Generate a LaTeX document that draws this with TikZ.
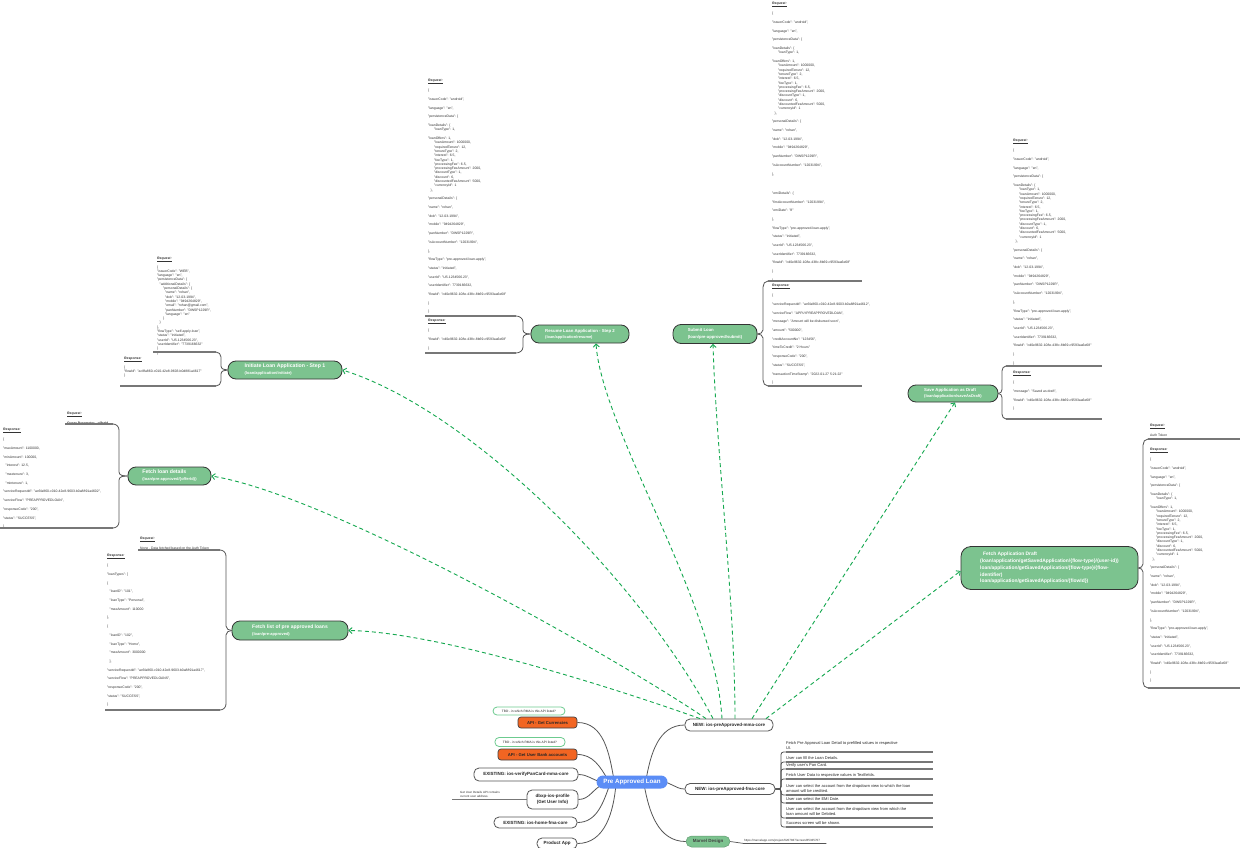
\documentclass[tikz,border=0pt]{standalone}
\usepackage{fontspec}
\setmainfont{Liberation Sans}
\usetikzlibrary{arrows.meta}
\pgfdeclarelayer{bg}
\pgfsetlayers{bg,main}
\definecolor{palblue}{HTML}{5B8DF6}
\definecolor{apigreen}{HTML}{7CC38F}
\definecolor{orangeN}{HTML}{F26522}
\definecolor{dashg}{HTML}{14A84F}
\definecolor{tbdg}{HTML}{6CCB8F}
\definecolor{lineg}{HTML}{555555}
\definecolor{ulg}{HTML}{777777}
\newcommand\jg{\\[4.4pt]}
\newcommand\ia{\hspace*{6pt}}
\newcommand\ib{\hspace*{2.5pt}}
\newcommand\ic{\hspace*{8pt}}
\newcommand\hd[1]{\textbf{\textit{\underline{#1}}}}
\newcommand\fsz[2]{\fontsize{#1}{#2}\selectfont}
\newcommand\headA[1]{\hd{#1}\jg
\{\jg
"issuerCode": "android",\jg
"language": "en",\jg
"persistenceData": \{\jg}
\newcommand\loanoff{"loanDetails": \{\\
\ia"loanType": 1,\jg
"loanOffers": 1,\\
\ia"loanAmount": 1000000,\\
\ia"requiredTenure": 12,\\
\ia"tenureType": 2,\\
\ia"interest": 6.5,\\
\ia"feeType": 1,\\
\ia"processingFee": 6.5,\\
\ia"processingFeeAmount": 2000,\\
\ia"discountType": 1,\\
\ia"discount": 6,\\
\ia"discountedFeeAmount": 5000,\\
\ia"currencyId": 1\\
\ib\},\jg}
\newcommand\loansave{"loanDetails": \{\\
\ia"loanType": 1,\\
\ia"loanAmount": 1000000,\\
\ia"requiredTenure": 12,\\
\ia"tenureType": 2,\\
\ia"interest": 6.5,\\
\ia"feeType": 1,\\
\ia"processingFee": 6.5,\\
\ia"processingFeeAmount": 2000,\\
\ia"discountType": 1,\\
\ia"discount": 6,\\
\ia"discountedFeeAmount": 5000,\\
\ia"currencyId": 1\\
\ib\},\jg}
\newcommand\persd{"personalDetails": \{\jg
"name": "rohan",\jg
"dob": "12-03-1994",\jg
"mobile": "9494264829",\jg
"panNumber": "DWSP1229R",\jg
"isAccountNumber": "12031994",\jg
\},}
\newcommand\tailf{"flowType": "pre-approved-loan-apply",\jg
"status": "initiated",\jg
"userId": "US.1234566.23",\jg
"userIdentifier": 7739166632,\jg
"flowId": "cd0e9632-108e-438c-8b69-c9593aa6e68"\jg
\}\jg
\}}
\tikzset{
 conn/.style={draw=lineg,line width=0.8pt},
 uline/.style={draw=ulg,line width=1.2pt},
 brc/.style={draw=lineg,line width=0.8pt},
 json/.style={anchor=north west,inner sep=0pt,align=left,font=\fsz{3.4}{4.3},text=black!80},
 apin/.style={draw=black!80,line width=0.8pt,fill=apigreen,rounded corners=8pt,text=white,align=left,inner sep=0pt},
 wnode/.style={draw=lineg,line width=0.8pt,fill=white,rounded corners=5pt,inner sep=0pt,align=center,font=\bfseries\fsz{4.5}{5.5},text=black!85},
 onode/.style={draw=black!75,line width=0.7pt,fill=orangeN,rounded corners=3pt,inner sep=0pt,font=\bfseries\fsz{4.2}{5},text=black!85},
 tbd/.style={draw=tbdg,line width=0.8pt,fill=white,rounded corners=4pt,inner sep=0pt,font=\fsz{3.2}{4},text=black!85},
 itemn/.style={anchor=south west,inner xsep=0pt,inner ysep=1.8pt,align=left,font=\fsz{4}{5.3},text=black!85},
 dsh/.style={draw=dashg,line width=0.9pt,dash pattern=on 4pt off 3pt,-{Straight Barb[length=3pt,width=6pt]}}
}
\begin{document}
\begin{tikzpicture}[x=1pt,y=-1pt]
\useasboundingbox (0,0) rectangle (1240,848);
\begin{pgfonlayer}{bg}
\fill[white] (0,0) rectangle (1240,848);
\end{pgfonlayer}

% ---------- central map ----------
\node[fill=palblue,text=white,font=\bfseries\fsz{6.2}{7},minimum width=71pt,minimum height=13pt,rounded corners=6.5pt,inner sep=0pt] (pal) at (632,782) {Pre Approved Loan};
\node[tbd,minimum width=72pt,minimum height=8pt] (tbd1) at (529,711) {TBD - in which RMA is this API listed?};
\node[onode,minimum width=59pt,minimum height=11pt] (cur) at (547.5,722.5) {API - Get Currencies};
\node[tbd,minimum width=70pt,minimum height=9pt] (tbd2) at (530,742) {TBD - in which RMA is this API listed?};
\node[onode,minimum width=79pt,minimum height=11pt] (bank) at (537.5,754.5) {API - Get User Bank accounts};
\node[wnode,minimum width=104pt,minimum height=13pt] (pan) at (526,774.5) {EXISTING: ios-verifyPanCard-mma-core};
\node[wnode,minimum width=51pt,minimum height=19pt] (dbxp) at (552.5,799.5) {dbxp-ios-profile\\(Get User Info)};
\node[wnode,minimum width=83pt,minimum height=11pt] (home) at (535.5,822.5) {EXISTING: ios-home-fma-core};
\node[wnode,minimum width=40pt,minimum height=11pt] (prod) at (557,843.5) {Product App};
\node[wnode,minimum width=88pt,minimum height=12pt] (mma) at (729,725) {NEW: ios-preApproved-mma-core};
\node[wnode,minimum width=90pt,minimum height=11pt] (fma) at (730,789) {NEW: ios-preApproved-fma-core};
\node[fill=apigreen,draw=apigreen!80!black,line width=0.5pt,rounded corners=5.5pt,inner sep=0pt,font=\bfseries\fsz{4.5}{5.5},text=black!75,minimum width=44pt,minimum height=11pt] (marvel) at (708,841.5) {Marvel Design};
\node[anchor=south west,inner sep=0pt,inner ysep=1pt,font=\fsz{3}{3.6},text=black!80] (mlink) at (744,843.5) {https://marvelapp.com/project/6207837/screen/85335707};
\node[anchor=south west,inner sep=0pt,inner ysep=1pt,align=left,font=\fsz{3}{4},text=black!80] (gud) at (460,799) {Get User Details API contains\\current user address.};
\coordinate (gudA) at (452,799.5);

\begin{pgfonlayer}{bg}
\draw[conn] (cur.east) to[out=0,in=100] ([xshift=-18pt,yshift=2pt]pal.center);
\draw[conn] (bank.east) to[out=0,in=120] ([xshift=-24pt,yshift=2pt]pal.center);
\draw[conn] (pan.east) to[out=0,in=170] ([xshift=-30pt]pal.center);
\draw[conn] (dbxp.east) to[out=0,in=200] ([xshift=-28pt,yshift=-2pt]pal.center);
\draw[conn] (home.east) to[out=0,in=250] ([xshift=-22pt,yshift=-2pt]pal.center);
\draw[conn] (prod.east) to[out=0,in=265] ([xshift=-16pt,yshift=-2pt]pal.center);
\draw[conn] (mma.west) to[out=180,in=80] ([xshift=14pt,yshift=2pt]pal.center);
\draw[conn] (fma.west) to[out=180,in=0] ([xshift=30pt]pal.center);
\draw[conn] (marvel.west) to[out=180,in=-80] ([xshift=12pt,yshift=-2pt]pal.center);
\end{pgfonlayer}
\draw[conn,line width=0.7pt] (marvel.east) -- (mlink.south west) -- ([xshift=6pt]mlink.south east);
\draw[uline,line width=1pt] (gudA) -- (dbxp.west);

% ---------- fma items ----------
\node[itemn] (it1) at (786,752) {Fetch Pre Approval Loan Detail to prefilled values in respective\\UI.};
\node[itemn] (it2) at (786,762) {User can fill the Loan Details.};
\node[itemn] (it3) at (786,769) {Verify user's Pan Card.};
\node[itemn] (it4) at (786,779) {Fetch User Data to respective values in Textfields.};
\node[itemn] (it5) at (786,795) {User can select the account from the dropdown view to which the loan\\amount will be credited.};
\node[itemn] (it6) at (786,803) {User can select the EMI Date.};
\node[itemn] (it7) at (786,818) {User can select the account from the dropdown view from which the\\loan amount will be Debited.};
\node[itemn] (it8) at (786,827) {Success screen will be shown.};
\foreach \i in {1,...,8}{
 \draw[uline] (it\i.south west) -- ++(147,0);
 \draw[conn,rounded corners=2.5pt] (fma.east) -- (781,789) |- (it\i.south west);
}

% ---------- API nodes ----------
\node[apin,font=\bfseries\fsz{4}{7},minimum width=114pt,minimum height=18pt] (init) at (285,370) {{\fsz{5.2}{7}Initiate Loan Application - Step 1}\\(loan/application/initiate)};
\node[apin,font=\bfseries\fsz{3.9}{6.3},minimum width=98pt,minimum height=18pt] (resume) at (580,334) {{\fsz{4.3}{6.3}Resume Loan Application - Step 2}\\(loan/application/resume)};
\node[apin,font=\bfseries\fsz{4.2}{6.5},minimum width=84pt,minimum height=19pt] (submit) at (715,334) {{\fsz{4.3}{6.5}Submit Loan}\\(loan/pre-approved/submit)};
\node[apin,font=\bfseries\fsz{4}{6.2},minimum width=90pt,minimum height=17pt] (save) at (953,393.5) {{\fsz{4.3}{6.2}Save Application as Draft}\\(loan/application/saveAsDraft)};
\node[apin,font=\bfseries\fsz{4.9}{6.8},rounded corners=10pt,minimum width=177pt,minimum height=43pt] (fdraft) at (1049.5,568) {\hspace*{3pt}Fetch Application  Draft\\(loan/application/getSavedApplication/\{flow-type\}/\{user-id\})\\loan/application/getSavedApplication/\{flow-type\}/\{flow-\\identifier)\\loan/application/getSavedApplication/\{flowId\})};
\node[apin,font=\bfseries\fsz{4}{7},minimum width=83pt,minimum height=18pt] (fld) at (169.5,476) {{\fsz{5.2}{7}Fetch loan details}\\(loan/pre-approved/\{offerId\})};
\node[apin,font=\bfseries\fsz{4}{7},minimum width=116pt,minimum height=19pt] (flist) at (290,630.5) {{\fsz{5}{7}Fetch list of pre approved  loans}\\(loan/pre-approved)};

% ---------- dashed arrows ----------
\draw[dsh] ([xshift=-29pt]mma.north) .. controls (620,690) and (440,632) .. (flist.east);
\draw[dsh] ([xshift=-23pt]mma.north) .. controls (620,660) and (330,495) .. (fld.east);
\draw[dsh] ([xshift=-16pt]mma.north) .. controls (640,580) and (470,410) .. (init.east);
\draw[dsh] ([xshift=-7pt]mma.north) .. controls (715,600) and (602,430) .. ([xshift=16pt]resume.south);
\draw[dsh] ([xshift=6pt]mma.north) .. controls (735,600) and (716,450) .. ([xshift=-2pt]submit.south);
\draw[dsh] ([xshift=23pt]mma.north) -- ([xshift=2pt]save.south);
\draw[dsh] ([xshift=37pt]mma.north) -- ([yshift=-3pt]fdraft.west);

% ---------- Initiate block ----------
\node[json] (ireq) at (157,256.6) {\hd{Request:}\\[2.7pt]
\{\\
"issuerCode": "WEB",\\
"language": "en",\\
"persistenceData": \{\\
\ib"additionalDetails": \{\\
\ia"personalDetails": \{\\
\ic"name": "rohan",\\
\ic"dob": "12-03-1994",\\
\ic"mobile": "9494264829",\\
\ic"email": "rohan@gmail.com",\\
\ic"panNumber": "DWSP1229R",\\
\ic"language": "en"\\
\ia\}\\
\ib\}\\
\},\\
"flowType": "self-apply-loan",\\
"status": "initiated",\\
"userId": "US.1234566.23",\\
"userIdentifier": "7739166632"\\
\}\\
\}};
\node[json] (ires) at (124,356.6) {\hd{Response:}\\[2.7pt]
\{\\
"flowId": "ac8fa860-c010-42e8-9603-b0d881a4617"\\
\}};
\coordinate (iTa) at (153,352); \coordinate (iT) at (216,352);
\coordinate (iBa) at (120,386); \coordinate (iB) at (216,386);
\draw[uline] (iTa) -- (iT); \draw[uline] (iBa) -- (iB);
\draw[brc] (iT) to[out=0,in=90] (221,357) -- (221,366) to[out=-90,in=180] (init.west);
\draw[brc] (iB) to[out=0,in=-90] (221,381) -- (221,374) to[out=90,in=180] (init.west);

% ---------- Resume block ----------
\node[json] (rreq) at (428,78.6) {\headA{Request:}\loanoff\persd\jg\tailf};
\node[json] (rres) at (428,318.6) {\hd{Response:}\jg
\{\jg
"flowId": "cd0e9632-108e-438c-8b69-c9593aa6e68"\jg
\}};
\coordinate (rTa) at (425,316); \coordinate (rT) at (516,316);
\coordinate (rBa) at (425,353); \coordinate (rB) at (516,353);
\draw[uline] (rTa) -- (rT); \draw[uline] (rBa) -- (rB);
\draw[brc] (rT) to[out=0,in=90] (523,322) -- (523,330) to[out=-90,in=180] (resume.west);
\draw[brc] (rB) to[out=0,in=-90] (523,347) -- (523,338) to[out=90,in=180] (resume.west);

% ---------- Submit block ----------
\node[json] (sreq) at (772,1.6) {\headA{Request:}\loanoff\persd\\[15pt]
"emiDetails": \{\jg
"firstAccountNumber": "12031994",\jg
"emiDate": "8"\jg
\},\jg
\tailf};
\node[json] (sres) at (772,283.6) {\hd{Response:}\jg
\{\jg
"serviceRequestId": "ac6fa860-c010-42e8-9003-b0a8891a4612",\jg
"serviceFlow": "APPLYPREAPPROVEDLOAN",\jg
"message": "Amount will be disbursed soon",\jg
"amount": "500000",\jg
"creditAccountNo": "123456",\jg
"timeToCredit": "2 Hours"\jg
"responseCode": "200",\jg
"status": "SUCCESS",\jg
"transactionTimeStamp": "2022-01-27 5:21:22"\jg
\}};
\coordinate (sT) at (768,281); \coordinate (sTb) at (862,281);
\coordinate (sB) at (768,386); \coordinate (sBb) at (862,386);
\draw[uline] (sT) -- (sTb); \draw[uline] (sB) -- (sBb);
\draw[brc] (sT) to[out=180,in=90] (763,287) -- (763,330) to[out=-90,in=0] (submit.east);
\draw[brc] (sB) to[out=180,in=-90] (763,380) -- (763,338) to[out=90,in=0] (submit.east);

% ---------- Save block ----------
\node[json] (vreq) at (1013,138.6) {\headA{Request:}\loansave\persd\jg\tailf};
\node[json] (vres) at (1013,370.6) {\hd{Response:}\jg
\{\jg
"message": "Saved as  draft",\jg
"flowId": "cd0e9632-108e-438c-8b69-c9593aa6e68"\jg
\}};
\coordinate (vT) at (1006,366); \coordinate (vTb) at (1102,366);
\coordinate (vB) at (1006,419); \coordinate (vBb) at (1102,419);
\draw[uline] (vT) -- (vTb); \draw[uline] (vB) -- (vBb);
\draw[brc] (vT) to[out=180,in=90] (1002,371) -- (1002,389.5) to[out=-90,in=0] (save.east);
\draw[brc] (vB) to[out=180,in=-90] (1002,414) -- (1002,397.5) to[out=90,in=0] (save.east);

% ---------- Fetch draft block ----------
\node[json] (fdreq) at (1150,423.6) {\hd{Request:}\jg Auth Token};
\node[json] (fdres) at (1150,447.6) {\headA{Response:}\loanoff\persd\jg\tailf};
\coordinate (dT) at (1148,439); \coordinate (dTb) at (1240,439);
\coordinate (dB) at (1148,688); \coordinate (dBb) at (1240,688);
\draw[uline] (dT) -- (dTb); \draw[uline] (dB) -- (dBb);
\draw[brc] (dT) to[out=180,in=90] (1143,445) -- (1143,564) to[out=-90,in=0] (fdraft.east);
\draw[brc] (dB) to[out=180,in=-90] (1143,682) -- (1143,572) to[out=90,in=0] (fdraft.east);

% ---------- Fetch loan details block ----------
\node[json] (fldreq) at (67,411.6) {\hd{Request:}\jg\textbf{Query Parameter - offerId}};
\node[json] (fldres) at (3,427.6) {\hd{Response:}\jg
\{\jg
"maxAmount": 1100000,\jg
"minAmount": 100000,\jg
\ib"interest": 12.5,\jg
\ib"maxtenure": 3,\jg
\ib"mintenure": 1,\jg
"serviceRequestId": "ac6fa860-c010-42e8-9603-b0a8891a4602",\jg
"serviceFlow": "PREAPPROVEDLOAN",\jg
"responseCode": "200",\jg
"status": "SUCCESS",\jg
\}};
\coordinate (lTa) at (65,424); \coordinate (lT) at (113,424);
\coordinate (lBa) at (0,528); \coordinate (lB) at (113,528);
\draw[uline] (lTa) -- (lT); \draw[uline] (lBa) -- (lB);
\draw[brc] (lT) to[out=0,in=90] (119,430) -- (119,472) to[out=-90,in=180] (fld.west);
\draw[brc] (lB) to[out=0,in=-90] (119,522) -- (119,480) to[out=90,in=180] (fld.west);

% ---------- Fetch list block ----------
\node[json] (flreq) at (140,536.6) {\hd{Request:}\jg None , Data fetched based on the Auth Token};
\node[json] (flres) at (107,553.6) {\hd{Response:}\jg
\{\jg
"loanTypes": [\jg
\{\jg
\ib"loanID": "101",\jg
\ib"loanType": "Personal",\jg
\ib"maxAmount": 110000\jg
\},\jg
\{\jg
\ib"loanID": "102",\jg
\ib"loanType": "Home",\jg
\ib"maxAmount": 3000000\jg
\ib],\jg
"serviceRequestId": "ac6fa860-c010-42e8-9603-b0a8891a4617",\jg
"serviceFlow": "PREAPPROVEDLOANS",\jg
"responseCode": "200",\jg
"status": "SUCCESS",\jg
\}};
\coordinate (fTa) at (138,550); \coordinate (fT) at (220,550);
\coordinate (fBa) at (105,710); \coordinate (fB) at (220,710);
\draw[uline] (fTa) -- (fT); \draw[uline] (fBa) -- (fB);
\draw[brc] (fT) to[out=0,in=90] (226,556) -- (226,626) to[out=-90,in=180] (flist.west);
\draw[brc] (fB) to[out=0,in=-90] (226,704) -- (226,635) to[out=90,in=180] (flist.west);
\end{tikzpicture}
\end{document}
